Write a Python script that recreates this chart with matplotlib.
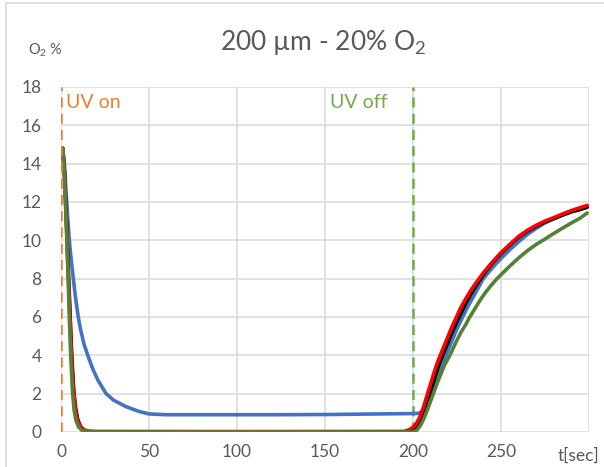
import matplotlib
matplotlib.use("Agg")
import matplotlib.pyplot as plt
from matplotlib.patches import Rectangle

plt.rcParams['font.family'] = ['Lato', 'DejaVu Sans']
plt.rcParams['mathtext.fontset'] = 'custom'
plt.rcParams['mathtext.rm'] = 'Lato'
plt.rcParams['mathtext.it'] = 'Lato'

# O2 % over time, four runs
blue_t = [0.5, 1, 2, 3, 4, 5, 6, 7, 8, 9, 10, 11, 13, 15.2, 18, 21, 25.6, 30, 37, 44, 50,
          60, 80, 100, 120, 150, 170, 190, 200, 203, 205, 207, 209, 211, 213, 215, 217,
          219, 222, 225, 228, 231, 234, 237, 240, 245, 250, 255, 260, 265, 270, 275, 280,
          285, 290, 295, 299]
blue_v = [14.5, 14.78, 13.9, 12.3, 10.9, 9.7, 8.8, 8.0, 7.2, 6.5, 5.9, 5.4, 4.6, 4.0, 3.3,
          2.7, 2.0, 1.65, 1.32, 1.08, 0.94, 0.9, 0.9, 0.9, 0.9, 0.91, 0.93, 0.95, 0.96,
          0.97, 1.05, 1.3, 1.7, 2.2, 2.7, 3.2, 3.65, 4.05, 4.72, 5.38, 5.95, 6.5, 7.0, 7.5,
          8.0, 8.55, 9.05, 9.5, 9.92, 10.3, 10.62, 10.9, 11.12, 11.32, 11.5, 11.63, 11.75]

black_t = [0.5, 1, 2, 3, 4, 5, 6, 7.2, 8.2, 9.5, 11, 13, 16, 20, 100, 199, 200, 202, 204,
           206, 208, 210, 212, 214, 216, 218, 220, 222, 224, 226, 230, 233, 236, 240, 245,
           250, 255, 260, 265, 270, 275, 280, 285, 290, 295, 299]
black_v = [14.6, 14.8, 13.5, 11.3, 8.8, 6.5, 4.2, 2.2, 1.3, 0.65, 0.3, 0.1, 0.02, 0.0, 0.0,
           0.0, 0.05, 0.2, 0.5, 0.95, 1.5, 2.1, 2.7, 3.3, 3.8, 4.25, 4.7, 5.15, 5.55, 5.95,
           6.7, 7.2, 7.65, 8.2, 8.8, 9.3, 9.74, 10.15, 10.47, 10.73, 10.95, 11.13, 11.31,
           11.48, 11.6, 11.72]

red_t = [0.5, 1, 2, 3, 4, 5, 6, 7, 8, 9, 10, 12, 15, 20, 100, 195, 198, 200, 202, 204, 206,
         208, 210, 212, 214, 216, 218, 220, 222, 224, 227, 230, 233, 236, 240, 245, 250,
         255, 260, 265, 270, 275, 280, 285, 290, 295, 299]
red_v = [14.6, 14.8, 13.4, 11.0, 8.5, 6.2, 3.9, 2.3, 1.3, 0.75, 0.45, 0.15, 0.05, 0.03,
         0.02, 0.03, 0.12, 0.25, 0.45, 0.8, 1.3, 1.9, 2.5, 3.1, 3.65, 4.1, 4.55, 5.0, 5.45,
         5.85, 6.45, 6.95, 7.4, 7.8, 8.3, 8.85, 9.35, 9.78, 10.2, 10.52, 10.78, 11.0, 11.18,
         11.37, 11.55, 11.7, 11.82]

green_t = [0.5, 1, 2, 2.5, 3, 4, 4.7, 5.5, 6.6, 7.5, 8.5, 10, 12, 15, 20, 100, 200, 202,
           204, 206, 208, 210, 212, 214, 216, 218, 221, 224, 227, 230, 232, 235, 238, 241,
           244, 247.5, 250, 255, 260, 265, 270, 274.3, 280, 285, 290, 295, 299]
green_v = [14.6, 14.75, 13.2, 12.0, 10.8, 8.2, 6.0, 4.0, 2.0, 1.1, 0.6, 0.25, 0.08, 0.01,
           0.0, 0.0, 0.0, 0.08, 0.3, 0.65, 1.1, 1.6, 2.1, 2.6, 3.05, 3.5, 4.0, 4.6, 5.15,
           5.6, 5.95, 6.4, 6.85, 7.25, 7.6, 7.97, 8.2, 8.65, 9.07, 9.45, 9.78, 10.02, 10.35,
           10.63, 10.9, 11.15, 11.42]

x_ticks = [0, 50, 100, 150, 200, 250, 300]
x_labels = ['0', '50', '100', '150', '200', '250', '']
y_ticks = [0, 2, 4, 6, 8, 10, 12, 14, 16, 18]

uv_on = 0
uv_off = 200

fig = plt.figure(figsize=(6.04, 4.67), dpi=100)
ax = fig.add_axes([0.101, 0.075, 0.874, 0.739])

# chart frame
fig.patches.append(Rectangle((6 / 604, -0.1), 1.2, 1 - 3 / 467 + 0.1,
                             transform=fig.transFigure, fill=False,
                             edgecolor='#d9d9d9', linewidth=1.2))

lw = 2.6
ax.plot(blue_t, blue_v, color='#4472c4', lw=lw, solid_capstyle='round')
ax.plot(black_t, black_v, color='black', lw=lw, solid_capstyle='round')
ax.plot(red_t, red_v, color='#ff0000', lw=lw, solid_capstyle='round')
ax.plot(green_t, green_v, color='#548235', lw=lw, solid_capstyle='round')

ax.axvline(uv_on, color='#ed7d31', lw=1.8, ls=(0, (4, 2.5)), zorder=5)
ax.axvline(uv_off, color='#70ad47', lw=1.8, ls=(0, (4, 2.5)), zorder=1)
ax.text(3, 17.2, 'UV on', color='#ed7d31', fontsize=14, va='center', ha='left')
ax.text(153, 17.2, 'UV off', color='#70ad47', fontsize=14, va='center', ha='left')

ax.set_xlim(0, 300)
ax.set_ylim(0, 18)
ax.set_xticks(x_ticks)
ax.set_xticklabels(x_labels)
ax.set_yticks(y_ticks)
ax.grid(True, color='#d9d9d9', lw=1.1)
ax.set_axisbelow(True)
for s in ax.spines.values():
    s.set_visible(False)
ax.tick_params(length=0, labelsize=12.5, labelcolor='#595959', pad=9)
ax.tick_params(axis='y', pad=14)

ax.text(1.02, -0.045, 't[sec]', transform=ax.transAxes, ha='right', va='top',
        fontsize=12.5, color='#595959')
fig.text(0.535, 0.91, '200 µm - 20% O$_2$', ha='center', va='center',
         fontsize=19, color='#595959')
fig.text(0.046, 0.893, 'O$_2$ %', ha='left', va='center', fontsize=10.5,
         color='#595959')

fig.savefig('out.png', dpi=100)
